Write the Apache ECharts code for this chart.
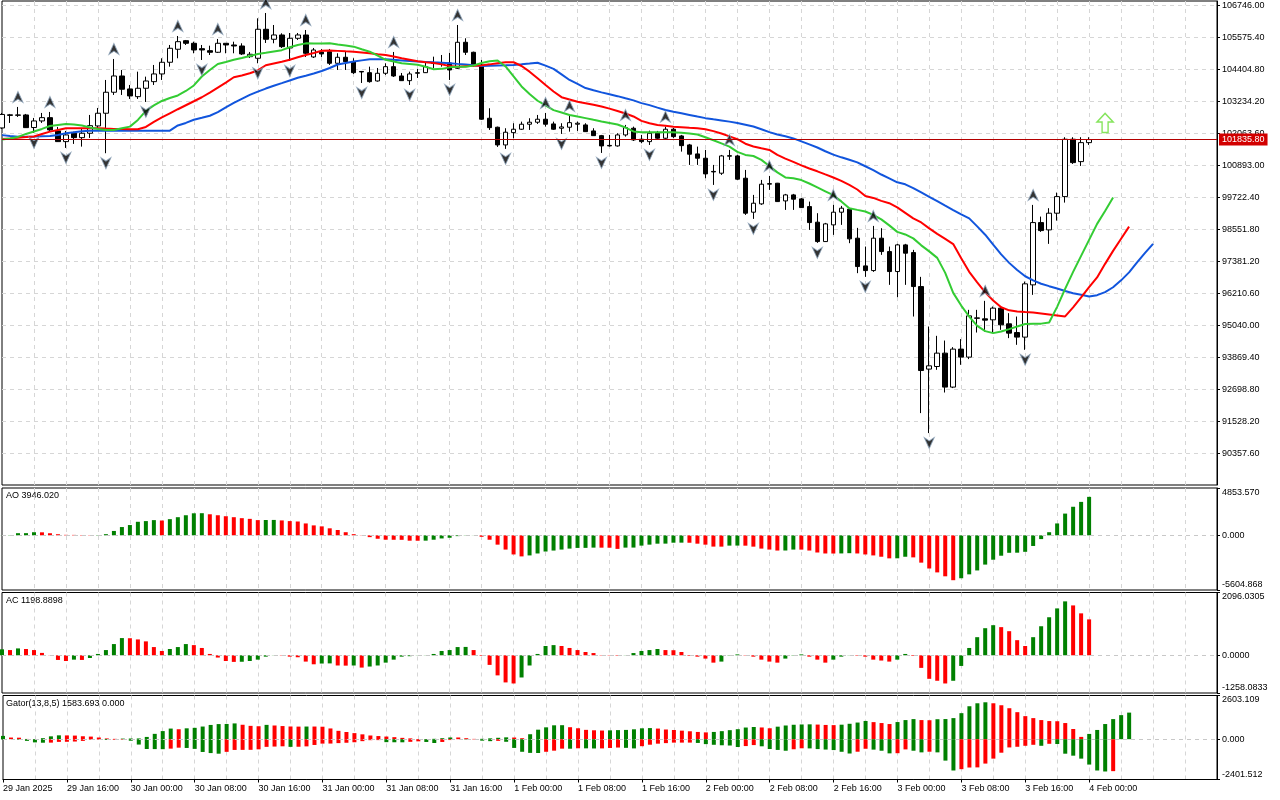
<!DOCTYPE html>
<html><head><meta charset="utf-8">
<script src="https://cdn.jsdelivr.net/npm/echarts@6/dist/echarts.min.js"></script>
<style>html,body{margin:0;padding:0;background:#fff}#c{width:1280px;height:800px}</style>
</head><body><div id="c"></div>
<script>
// ---- tick labels (every 8 hourly bars) ----
const timeLabels = ['29 Jan 2025','29 Jan 16:00','30 Jan 00:00','30 Jan 08:00','30 Jan 16:00','31 Jan 00:00','31 Jan 08:00','31 Jan 16:00','1 Feb 00:00','1 Feb 08:00','1 Feb 16:00','2 Feb 00:00','2 Feb 08:00','2 Feb 16:00','3 Feb 00:00','3 Feb 08:00','3 Feb 16:00','4 Feb 00:00'];

// ---- H1 candles ----
const open = [102262,102720,102738,102738,102277,102518,102639,102152,101761,102068,
101907,102068,102335,102800,103569,104165,103690,103408,103715,103957,
104239,104667,105143,105457,105362,105165,105091,105033,105362,105300,
105263,104872,104813,105875,105509,105666,105190,105545,105666,104861,
105044,105055,104630,104850,104689,104330,104286,103982,104264,104506,
104165,103993,104264,104286,104623,104641,104641,104447,105399,105033,
104568,102617,102288,101640,102090,102215,102398,102471,102581,102409,
102251,102288,102398,102372,102152,101980,101622,101603,102006,102251,
101849,101761,102068,101885,102215,101969,101640,101311,101153,100670,
100604,101226,101237,100421,99177,99481,100202,100238,99590,99810,
99664,99382,98811,98101,98712,99177,99287,98225,97211,97039,
98225,97735,97003,97980,97698,96454,93431,93526,94016,92772,
94163,93870,95290,95272,95235,95663,95089,94770,94602,96516,
98796,98529,99140,99748,101849,101029,101724];
const high = [102811,102775,103031,102775,102628,102811,102848,102299,102152,102127,
102262,102738,102994,104019,104788,104385,103836,104323,104140,104568,
104813,105300,105629,105483,105421,105300,105274,105520,105362,105421,
105362,105044,106277,106471,106032,105728,105739,105739,105849,105190,
105154,105154,104996,105055,104813,104348,104506,104458,104630,105044,
104275,104323,104422,104689,104872,104934,105007,106032,105545,105055,
104751,102983,102310,102251,102434,102493,102617,102738,102811,102493,
102434,102701,102493,102434,102251,102006,102006,102068,102372,102310,
102006,102163,102152,102310,102262,102006,101677,101578,101457,100908,
101274,101457,101274,100725,99810,100359,100505,100249,99847,99847,
99700,99565,99140,98785,99444,99407,99334,98602,97918,98675,
98591,97918,98017,98017,97797,96809,94990,94649,94477,94236,
94529,95601,95601,95930,95722,95722,95480,95356,96637,99444,
99016,99323,99894,101922,101922,101922,101922];
const low = [102226,102445,102665,102262,102079,102445,102152,101750,101530,101677,
101578,101896,102262,101336,103470,103470,103324,103324,103214,103836,
104019,104506,104813,105300,104996,104751,104934,105007,104996,104996,
104934,104824,104630,105373,105362,105190,104714,105483,104861,104824,
104861,104568,104385,104385,104239,103909,103920,103957,104202,104129,
103982,103836,104092,104275,104458,104506,104019,104422,104934,104506,
102555,102189,101567,101494,101885,102189,102189,102409,102310,102189,
102043,102127,102152,102116,101969,101347,101578,101578,101944,101786,
101702,101640,101860,101860,101896,101395,100908,100908,100421,100176,
100542,101091,100359,99078,98932,99444,99993,99554,99261,99261,
99334,98529,98053,98090,98346,98712,98042,96944,96809,96992,
97614,96516,96066,96516,95356,91820,91088,93405,92574,92735,
93588,93797,94770,94807,94770,94869,94565,94320,94137,96150,
98456,98017,98869,99528,100945,100871,101640];
const close = [102756,102745,102727,102273,102518,102639,102189,101761,102006,101907,
102068,102346,102800,103569,104165,103679,103433,103715,103982,104239,
104667,105179,105421,105362,105117,105117,105033,105362,105300,105263,
104971,104960,105875,105509,105666,105238,105545,105666,104996,105117,
104971,104630,104850,104689,104286,104312,103957,104264,104506,104165,
103993,104239,104286,104506,104641,104652,104385,105399,105033,104568,
102581,102273,101640,102105,102215,102398,102471,102581,102398,102215,
102299,102456,102434,102127,101980,101603,101603,102006,102273,101823,
101761,102068,101885,102215,101944,101614,101300,101153,100579,100652,
101237,101248,100385,99140,99506,100202,100224,99565,99810,99653,
99345,98796,98101,98749,99177,99323,98200,97186,97039,98225,
97735,97003,97980,97676,96454,93379,93551,94016,92772,94163,
93870,95381,95308,95224,95663,95052,94748,94602,96553,98796,
98503,99140,99748,101849,100992,101724,101835.8];

// ---- Alligator lines (as displayed, with forward shift) ----
const lips = [101841,101878,101933,102043,102134,102226,102335,102372,102409,102390,
102354,102281,102226,102189,102189,102251,102310,102555,102884,103086,
103250,103360,103452,103616,103818,104147,104385,104605,104678,104758,
104824,104897,104971,105014,105062,105110,105216,105300,105359,105351,
105355,105362,105318,105282,105238,105143,105055,104908,104758,104696,
104634,104605,104575,104502,104414,104425,104480,104506,104506,104550,
104641,104707,104733,104513,104147,103781,103507,103258,103086,102914,
102826,102738,102679,102621,102559,102500,102445,102387,102277,102134,
102105,102105,102105,102105,102101,102083,102061,102024,101922,101812,
101695,101578,101384,101274,101234,101091,100871,100634,100451,100418,
100352,100227,100085,99942,99799,99572,99323,99261,99202,99078,
98913,98694,98456,98361,98218,97962,97742,97504,96955,96223,
95758,95356,95015,94821,94748,94807,94895,94990,95081,95089,
95096,95136,95711,96370,96992,97577,98163,98749,99224,99719];
const teeth = [101860,101878,101904,101926,101951,102043,102127,102189,102248,102251,
102251,102251,102251,102237,102226,102222,102218,102215,102299,102482,
102647,102797,102947,103093,103239,103386,103558,103741,103924,104118,
104184,104264,104367,104557,104623,104685,104758,104850,104930,105007,
105091,105099,105084,105069,105055,105026,104996,104963,104934,104879,
104817,104762,104703,104667,104641,104590,104531,104506,104524,104539,
104553,104590,104634,104667,104667,104531,104323,104081,103836,103598,
103389,103305,103221,103166,103111,103049,102969,102884,102793,102683,
102522,102434,102372,102339,102306,102288,102266,102248,102215,102145,
102057,101955,101849,101684,101585,101516,101457,101274,101139,101018,
100893,100776,100674,100560,100447,100322,100176,100008,99773,99700,
99590,99506,99352,99151,98950,98800,98584,98383,98200,98009,
97493,96992,96608,96241,95941,95696,95583,95539,95520,95502,
95469,95433,95396,95359,95692,96055,96435,96787,97285,97760,
98207,98650];
const jaw = [101999,101969,101944,101944,101944,101955,101966,102006,102065,102101,
102138,102156,102163,102163,102163,102163,102163,102163,102163,102163,
102163,102163,102354,102445,102562,102632,102709,102840,103016,103177,
103324,103470,103594,103704,103807,103902,104001,104100,104176,104253,
104348,104458,104586,104641,104692,104736,104777,104777,104777,104758,
104736,104714,104692,104678,104663,104649,104634,104608,104583,104557,
104531,104539,104550,104557,104568,104590,104619,104649,104542,104425,
104224,104019,103873,103722,103642,103565,103496,103426,103346,103272,
103170,103097,103005,102917,102855,102797,102738,102679,102621,102577,
102537,102493,102445,102379,102313,102215,102108,102021,101955,101878,
101772,101662,101545,101409,101285,101186,101095,101000,100860,100718,
100557,100418,100271,100198,100059,99898,99737,99579,99415,99254,
99096,98950,98657,98353,97987,97632,97321,97058,96831,96681,
96556,96468,96381,96289,96209,96150,96088,96139,96249,96428,
96681,96974,97340,97687,98017];

// ---- Fractals (bar indices) and signal arrow ----
const fractalUp = [2,6,14,22,27,33,38,49,57,68,71,78,83,91,96,104,109,123,129];
const fractalDown = [4,8,13,18,25,32,36,45,51,56,63,70,75,81,89,94,102,108,116,128];
const signalArrowBar = [138];
const signalArrowPrice = [102445];

// ---- Awesome Oscillator ----
const ao = [10,25,220,225,320,310,215,115,50,45,
35,25,30,120,450,850,1055,1390,1460,1560,
1520,1660,1860,2060,2260,2270,2160,2060,1960,1860,
1760,1690,1560,1570,1580,1530,1460,1420,1220,1020,
920,720,550,320,120,20,-185,-350,-450,-455,
-460,-550,-555,-545,-450,-320,-250,-80,-20,-10,
-150,-450,-955,-1460,-1960,-2160,-2060,-1860,-1660,-1560,
-1460,-1360,-1290,-1285,-1260,-1265,-1270,-1390,-1260,-1255,
-1055,-955,-855,-850,-755,-750,-760,-855,-955,-1155,
-1160,-1055,-1050,-1060,-1160,-1360,-1460,-1560,-1555,-1460,
-1465,-1560,-1760,-1860,-1865,-1855,-1830,-1860,-1960,-2060,
-2195,-2360,-2355,-2195,-2260,-2800,-3400,-3800,-4200,-4600,
-4400,-4000,-3600,-3000,-2500,-2090,-1790,-1780,-1690,-1090,
-385,320,1220,2230,2930,3430,3946.02];

// ---- Accelerator Oscillator ----
const ac = [200,175,230,210,175,80,5,-155,-190,-145,
-155,-90,45,175,375,575,570,530,465,275,
145,210,275,375,340,245,45,-75,-190,-220,
-215,-190,-145,-45,-5,-10,-45,-65,-210,-300,
-275,-270,-340,-345,-340,-410,-375,-340,-245,-145,
-45,-30,-5,5,45,145,175,275,280,175,
-20,-320,-670,-905,-940,-740,-340,45,310,340,
310,245,175,110,75,10,-10,-15,5,75,
145,175,210,175,170,110,-20,-45,-110,-245,
-210,-10,30,-10,-45,-145,-210,-245,-110,-10,
30,-45,-145,-245,-145,-45,-5,-15,-45,-145,
-175,-210,-145,45,-20,-420,-785,-850,-940,-850,
-355,245,605,905,1005,940,805,505,310,605,
970,1270,1565,1800,1665,1400,1198.8898];

// ---- Gator Oscillator ----
const gatorUp = [196,98,90,15,5,60,170,230,225,215,
175,155,100,45,20,35,40,45,135,318,
483,633,593,648,677,754,849,900,907,940,
860,794,772,853,816,783,757,750,754,754,
743,640,498,428,362,289,220,187,157,121,
80,48,11,11,22,59,102,102,59,18,
22,51,84,110,99,59,296,567,706,827,
834,714,651,556,531,516,527,542,553,589,
648,662,633,578,549,509,472,432,406,432,
479,538,596,695,728,699,651,746,816,860,
878,885,871,849,838,864,918,992,1087,1017,
962,903,1021,1139,1197,1139,1130,1190,1200,1256,
1551,1963,2140,2199,2140,2022,1845,1610,1374,1256,
1139,1080,1070,962,609,137,314,550,903,1197,
1433,1583.693];
const gatorDown = [-18,0,-29,-100,-190,-210,-205,-160,-155,-139,
-102,-29,-26,-48,-37,-29,-91,-320,-585,-590,
-595,-563,-505,-523,-578,-761,-827,-864,-754,-640,
-636,-633,-604,-457,-439,-424,-457,-450,-428,-344,
-263,-260,-234,-212,-183,-117,-59,-55,-176,-183,
-185,-157,-128,-165,-227,-165,-51,0,-18,-11,
-88,-117,-99,-154,-520,-750,-816,-823,-750,-684,
-563,-567,-542,-545,-553,-549,-523,-498,-516,-549,
-417,-329,-267,-234,-205,-204,-203,-223,-293,-333,
-362,-377,-465,-410,-351,-424,-585,-640,-688,-600,
-542,-549,-589,-618,-648,-750,-853,-746,-571,-622,
-687,-844,-835,-608,-687,-785,-746,-785,-1276,-1865,
-1786,-1688,-1680,-1453,-1158,-805,-491,-452,-393,-334,
-393,-275,-285,-864,-982,-1158,-1512,-1865,-1924,-1904,
0,0];

// ---- pane scales (as printed on the right axis) ----
const PRICE_STEP = 1170.6, PRICE_MIN = 89187.0, PRICE_MAX = 106910.4;
const AO_MIN = -5604.868, AO_MAX = 4853.57;
const AC_MIN = -1258.0833, AC_MAX = 2096.0305;
const GA_MIN = -2401.512, GA_MAX = 2603.109;

const FONT = "'Liberation Sans', Arial, sans-serif";
const GREEN = '#008000', RED = '#ff0000';
const GRID_LINE = {color:'#d6d6d6', type:[4,4], width:1};
const txt = {color:'#000', fontSize:9, fontFamily:FONT};
const N = 153;
const cats = Array.from({length:N}, (_, i) => 'b' + i);
const gridInt = (i) => i > 0 && i < N - 1 && i % 4 === 0;
const labInt = (i) => i % 8 === 0 && (i / 8) < timeLabels.length;
const lastPrice = close[close.length - 1];

function xAx(gi, withLabels) {
  return {
    type:'category', gridIndex:gi, data:cats, boundaryGap:false,
    axisLine:{show:withLabels, onZero:false, lineStyle:{color:'#000', width:1}},
    axisTick:{show:withLabels, interval:labInt, length:3, lineStyle:{color:'#000'}},
    axisLabel:{show:withLabels, interval:labInt, align:'left', margin:5, ...txt,
      formatter:(v, idx) => (idx % 8 === 0 && timeLabels[idx / 8]) ? timeLabels[idx / 8] : ''},
    splitLine:{show:true, interval:gridInt, lineStyle:GRID_LINE}
  };
}
function subY(gi, mn, mx, dec) {
  const vals = [mn, 0, mx];
  return {
    type:'value', gridIndex:gi, position:'right', min:mn, max:mx,
    axisLine:{show:true, lineStyle:{color:'#000'}},
    axisTick:{show:true, length:3, customValues:vals, lineStyle:{color:'#000'}},
    axisLabel:{customValues:vals, margin:5, ...txt,
      formatter:(v) => v === mx ? '{t|' + v.toFixed(dec) + '}' : (v === mn ? '{b|' + v.toFixed(dec) + '}' : v.toFixed(dec)),
      rich:{t:{...txt, padding:[9,0,0,0]}, b:{...txt, padding:[0,0,10,0]}}},
    splitLine:{show:false}
  };
}
const zeroLine = () => ({symbol:'none', silent:true, label:{show:false}, lineStyle:{color:'#c8c8c8', type:[4,4], width:1}, data:[{yAxis:0}]});
const colorByRise = (arr) => (p) => (p.dataIndex === 0 || arr[p.dataIndex] > arr[p.dataIndex - 1]) ? GREEN : RED;
const colorByAbsRise = (arr) => (p) => (p.dataIndex === 0 || Math.abs(arr[p.dataIndex]) > Math.abs(arr[p.dataIndex - 1])) ? GREEN : RED;

const gridBase = {show:true, borderColor:'#000', borderWidth:1, backgroundColor:'#fff', left:2, right:63};
const option = {
  animation:false,
  backgroundColor:'#fff',
  grid:[
    {...gridBase, top:1, height:484},
    {...gridBase, top:488, height:102},
    {...gridBase, top:592.5, height:100.5},
    {...gridBase, top:695.5, height:84}
  ],
  xAxis:[xAx(0,false), xAx(1,false), xAx(2,false), xAx(3,true)],
  yAxis:[
    {type:'value', gridIndex:0, position:'right', min:PRICE_MIN, max:PRICE_MAX, interval:PRICE_STEP,
      axisLine:{show:true, lineStyle:{color:'#000'}},
      axisTick:{show:true, length:3, lineStyle:{color:'#000'}},
      axisLabel:{...txt, margin:5, showMinLabel:false, showMaxLabel:false, formatter:(v) => v.toFixed(2)},
      splitLine:{show:true, showMinLine:false, showMaxLine:false, lineStyle:GRID_LINE}},
    subY(1, AO_MIN, AO_MAX, 3),
    subY(2, AC_MIN, AC_MAX, 4),
    subY(3, GA_MIN, GA_MAX, 3)
  ],
  graphic:[
    {type:'text', left:6, top:491, style:{text:'AO ' + ao[ao.length-1].toFixed(3), fill:'#000', font:'9px ' + FONT}},
    {type:'text', left:6, top:596, style:{text:'AC ' + ac[ac.length-1].toFixed(4), fill:'#000', font:'9px ' + FONT}},
    {type:'text', left:6, top:699, style:{text:'Gator(13,8,5) ' + gatorUp[gatorUp.length-1].toFixed(3) + ' ' + Math.abs(gatorDown[gatorDown.length-1]).toFixed(3), fill:'#000', font:'9px ' + FONT}}
  ],
  series:[
    {type:'candlestick', xAxisIndex:0, yAxisIndex:0, barWidth:5, z:2,
      data:open.map((o, i) => [o, close[i], low[i], high[i]]),
      itemStyle:{color:'#ffffff', color0:'#000000', borderColor:'#000000', borderColor0:'#000000', borderWidth:1},
      markLine:{symbol:'none', silent:true, data:[{yAxis:lastPrice}],
        lineStyle:{color:'#b40000', width:1, type:'solid'},
        label:{show:true, position:'end', distance:2, formatter:lastPrice.toFixed(2), backgroundColor:'#d20000', color:'#fff', padding:[2,3,1,3], fontSize:9, fontFamily:FONT}}},
    {type:'line', name:'Jaw', xAxisIndex:0, yAxisIndex:0, data:jaw, showSymbol:false, z:3, lineStyle:{color:'#1155dd', width:2}},
    {type:'line', name:'Teeth', xAxisIndex:0, yAxisIndex:0, data:teeth, showSymbol:false, z:3, lineStyle:{color:'#ff0000', width:2}},
    {type:'line', name:'Lips', xAxisIndex:0, yAxisIndex:0, data:lips, showSymbol:false, z:3, lineStyle:{color:'#33cc33', width:2}},
    {type:'scatter', xAxisIndex:0, yAxisIndex:0, z:4, data:fractalUp.map(i => [i, high[i]]),
      symbol:'path://M5,0 L10,10 L5,7 L0,10 Z', symbolSize:[10,11], symbolOffset:[0,-10],
      itemStyle:{color:'#000000', borderColor:'#8aa0b8', borderWidth:1}},
    {type:'scatter', xAxisIndex:0, yAxisIndex:0, z:4, data:fractalDown.map(i => [i, low[i]]),
      symbol:'path://M0,0 L5,3 L10,0 L5,10 Z', symbolSize:[10,11], symbolOffset:[0,10],
      itemStyle:{color:'#000000', borderColor:'#8aa0b8', borderWidth:1}},
    {type:'scatter', xAxisIndex:0, yAxisIndex:0, z:4, data:signalArrowBar.map((b, k) => [b, signalArrowPrice[k]]),
      symbol:'path://M8,0 L16,9 L11,9 L11,20 L5,20 L5,9 L0,9 Z', symbolSize:[16,19],
      itemStyle:{color:'#ffffff', borderColor:'#66dd33', borderWidth:1.5}},
    {type:'bar', xAxisIndex:1, yAxisIndex:1, data:ao, barWidth:4, itemStyle:{color:colorByRise(ao)}, markLine:zeroLine()},
    {type:'bar', xAxisIndex:2, yAxisIndex:2, data:ac, barWidth:4, itemStyle:{color:colorByRise(ac)}, markLine:zeroLine()},
    {type:'bar', xAxisIndex:3, yAxisIndex:3, data:gatorUp, barWidth:4, barGap:'-100%', itemStyle:{color:colorByRise(gatorUp)}, markLine:zeroLine()},
    {type:'bar', xAxisIndex:3, yAxisIndex:3, data:gatorDown, barWidth:4, barGap:'-100%', itemStyle:{color:colorByAbsRise(gatorDown)}}
  ]
};
const chart = echarts.init(document.getElementById('c'), null, {renderer:'canvas'});
chart.setOption(option);
</script>
</body></html>
